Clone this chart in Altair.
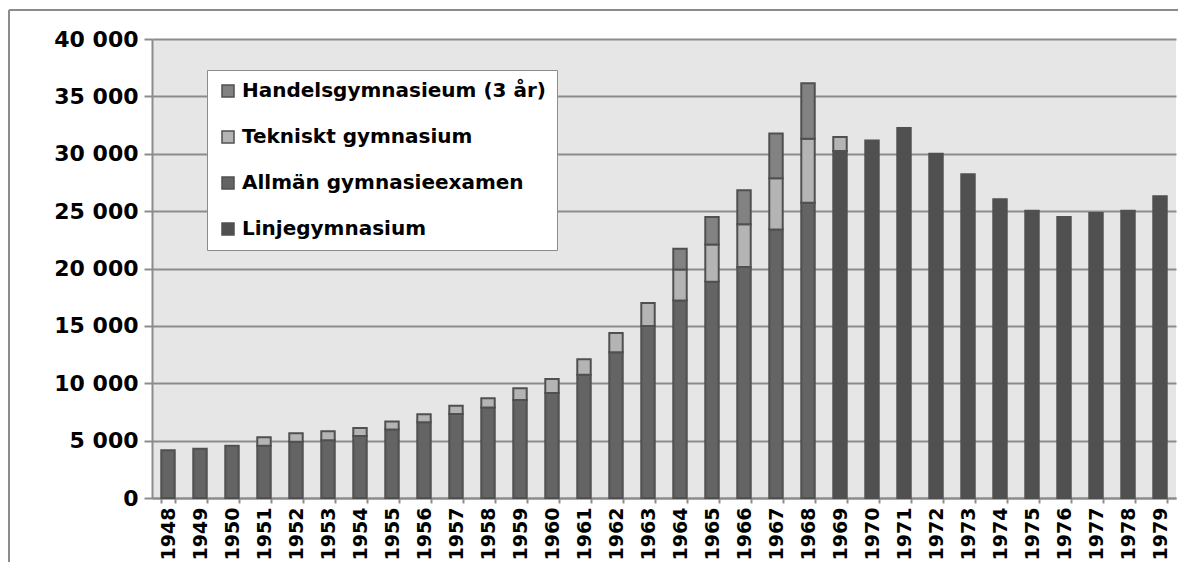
import altair as alt
import pandas as pd

years = list(range(1948, 1980))

allman = [4160, 4300, 4560, 4560, 4910, 5030, 5410, 5960, 6600, 7330, 7880, 8550, 9160,
          10730, 12710, 14980, 17220, 18850, 20130, 23390, 25720,
          0, 0, 0, 0, 0, 0, 0, 0, 0, 0, 0]
tekniskt = [0, 0, 0, 730, 730, 790, 700, 700, 700, 720, 820, 1020, 1200,
            1370, 1660, 2010, 2700, 3250, 3720, 4470, 5580,
            1220, 0, 0, 0, 0, 0, 0, 0, 0, 0, 0]
handels = [0, 0, 0, 0, 0, 0, 0, 0, 0, 0, 0, 0, 0,
           0, 0, 0, 1810, 2390, 2970, 3900, 4850,
           0, 0, 0, 0, 0, 0, 0, 0, 0, 0, 0]
linje = [0] * 21 + [30250, 31150, 32250, 30010, 28210, 26030, 25040, 24490, 24840, 25040, 26290]

series_names = ["Handelsgymnasieum (3 år)", "Tekniskt gymnasium", "Allmän gymnasieexamen", "Linjegymnasium"]
series_colors = ["#828282", "#b4b4b4", "#646464", "#505050"]
stack_rank = {"Linjegymnasium": 0, "Allmän gymnasieexamen": 1, "Tekniskt gymnasium": 2, "Handelsgymnasieum (3 år)": 3}

rows = []
for i, y in enumerate(years):
    for name, vals in [("Linjegymnasium", linje), ("Allmän gymnasieexamen", allman),
                       ("Tekniskt gymnasium", tekniskt), ("Handelsgymnasieum (3 år)", handels)]:
        if vals[i] > 0:
            rows.append({"year": str(y), "serie": name, "value": vals[i], "rank": stack_rank[name]})
df = pd.DataFrame(rows)

FONT = "DejaVu Sans"

bars = alt.Chart(df).mark_bar(stroke="#505050", strokeWidth=2).encode(
    x=alt.X("year:N", sort=[str(y) for y in years],
            scale=alt.Scale(paddingInner=0.58, paddingOuter=0.29),
            axis=alt.Axis(title=None, labelAngle=270, tickBand="extent", tickSize=5,
                          labelPadding=4, labelFontSize=19, labelFont=FONT, labelFontWeight="bold",
                          labelColor="#000000", domainColor="#8c8c8c", domainWidth=2,
                          tickColor="#8c8c8c", tickWidth=2, grid=False)),
    y=alt.Y("value:Q", stack="zero",
            scale=alt.Scale(domain=[0, 40000], nice=False),
            axis=alt.Axis(title=None, values=list(range(0, 40001, 5000)),
                          labelExpr="replace(format(datum.value, ','), ',', ' ')",
                          tickSize=8, labelPadding=6, labelFontSize=22, labelFont=FONT,
                          labelFontWeight="bold", labelColor="#000000",
                          domainColor="#8c8c8c", domainWidth=2, tickColor="#8c8c8c", tickWidth=2,
                          gridColor="#8c8c8c", gridWidth=2)),
    color=alt.Color("serie:N",
                    scale=alt.Scale(domain=series_names, range=series_colors),
                    legend=alt.Legend(title=None, orient="none", legendX=55, legendY=31,
                                      symbolType="square", symbolSize=144,
                                      symbolStrokeColor="#505050", symbolStrokeWidth=1.5,
                                      labelFont=FONT, labelFontSize=20, labelFontWeight="bold",
                                      labelColor="#000000", labelLimit=400,
                                      rowPadding=26, padding=11, labelOffset=4,
                                      fillColor="#ffffff", strokeColor="#8c8c8c")),
    order=alt.Order("rank:Q"),
)

frame_data = alt.Data(values=[{"a": 1}])
frame_top = alt.Chart(frame_data).mark_rule(stroke="#8c8c8c", strokeWidth=2).encode(
    x=alt.value(-143), x2=alt.value(1040), y=alt.value(-29), y2=alt.value(-29))
frame_left = alt.Chart(frame_data).mark_rule(stroke="#8c8c8c", strokeWidth=2).encode(
    x=alt.value(-143), x2=alt.value(-143), y=alt.value(-29), y2=alt.value(600))

chart = alt.layer(frame_top, frame_left, bars).properties(
    width=1024, height=459,
    autosize=alt.AutoSizeParams(type="none"),
    padding={"left": 144, "top": 31, "right": 2, "bottom": 64},
    background="#ffffff",
).configure_view(stroke="transparent", strokeWidth=0, fill="#e6e6e6")

chart.save("out.html", embed_options={"renderer": "svg", "actions": False})
